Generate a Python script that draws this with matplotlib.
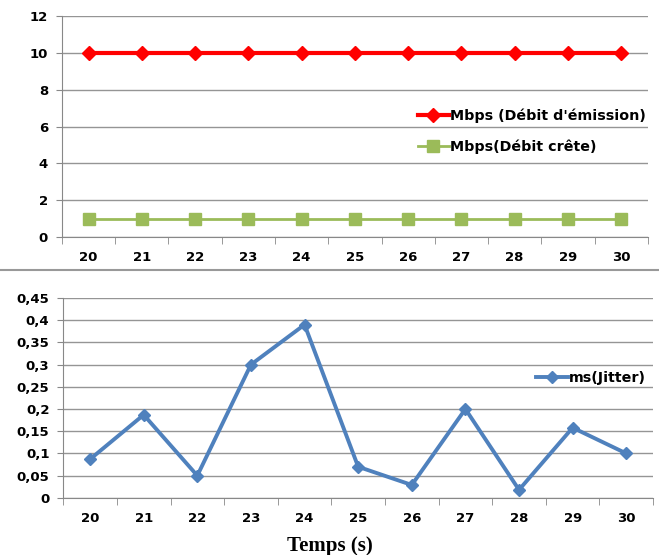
import numpy as np
import matplotlib
matplotlib.use("Agg")
import matplotlib.pyplot as plt
from matplotlib.ticker import FuncFormatter

temps = [20, 21, 22, 23, 24, 25, 26, 27, 28, 29, 30]
debit_emission = [10, 10, 10, 10, 10, 10, 10, 10, 10, 10, 10]
debit_crete = [1, 1, 1, 1, 1, 1, 1, 1, 1, 1, 1]
jitter = [0.087, 0.187, 0.05, 0.30, 0.39, 0.07, 0.029, 0.20, 0.018, 0.158, 0.10]

plt.rcParams['font.family'] = ['DejaVu Sans']
fig = plt.figure(figsize=(6.59, 5.55), dpi=100)

ax1 = fig.add_axes([0.094, 0.573, 0.889, 0.398])
ax2 = fig.add_axes([0.096, 0.103, 0.895, 0.360])

ax1.plot(temps, debit_emission, color='#ff0000', lw=3, marker='D', ms=7,
         label="Mbps (Débit d'émission)")
ax1.plot(temps, debit_crete, color='#9bbb59', lw=2, marker='s', ms=8,
         label="Mbps(Débit crête)")
ax1.set_ylim(0, 12)
ax1.set_yticks(range(0, 13, 2))

ax2.plot(temps, jitter, color='#4f81bd', lw=2.8, marker='D', ms=6, label="ms(Jitter)")
ax2.set_ylim(0, 0.45)
ax2.set_yticks(np.arange(0, 0.46, 0.05))
ax2.yaxis.set_major_formatter(FuncFormatter(lambda v, p: ('%g' % round(v, 2)).replace('.', ',')))

for ax in (ax1, ax2):
    ax.set_xlim(19.5, 30.5)
    ax.set_xticks(temps)
    ax.set_xticks(np.arange(19.5, 31, 1), minor=True)
    ax.tick_params(axis='x', which='major', length=0, pad=10)
    ax.tick_params(axis='x', which='minor', length=5, color='#888888')
    ax.tick_params(axis='y', length=4, color='#888888', pad=6)
    ax.grid(axis='y', color='#959595', lw=1)
    ax.set_axisbelow(True)
    for s in ('top', 'right'):
        ax.spines[s].set_visible(False)
    for s in ('left', 'bottom'):
        ax.spines[s].set_color('#888888')
    for lab in ax.get_xticklabels() + ax.get_yticklabels():
        lab.set_fontweight('bold')
        lab.set_fontsize(9.5)

ax1.legend(loc='center left', bbox_to_anchor=(0.585, 0.477), frameon=False,
           prop={'weight': 'bold', 'size': 10.3}, handlelength=2.2,
           handletextpad=0.1, labelspacing=1.15)
ax2.legend(loc='center left', bbox_to_anchor=(0.78, 0.6), frameon=False,
           prop={'weight': 'bold', 'size': 10.3}, handlelength=2.2,
           handletextpad=0.1)

fig.add_artist(plt.Line2D([0, 1], [0.514, 0.514], color='#999999', lw=1.5))
fig.text(0.5, 0.008, "Temps (s)", family='Liberation Serif', weight='bold',
         fontsize=15, ha='center')

fig.savefig("out.png", dpi=100, facecolor='white')
